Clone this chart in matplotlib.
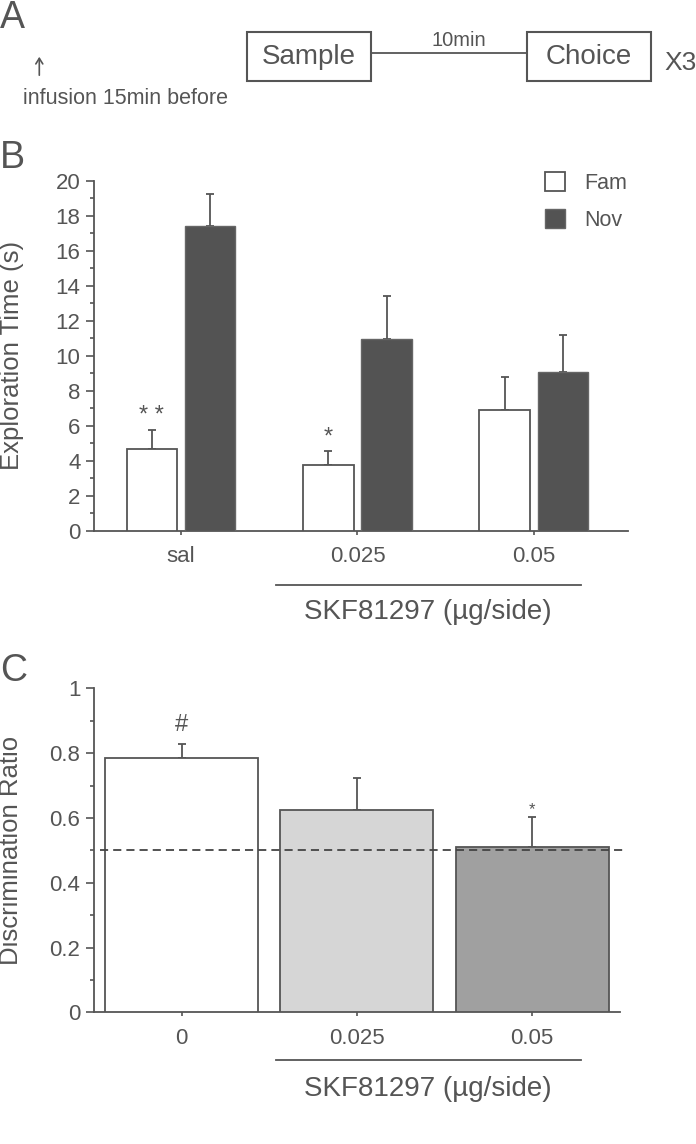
import matplotlib
matplotlib.use("Agg")
import matplotlib.pyplot as plt
import numpy as np
from matplotlib.patches import Rectangle, Patch
from matplotlib.lines import Line2D
from matplotlib.ticker import MultipleLocator, FuncFormatter

plt.rcParams['font.family'] = ['Liberation Sans', 'DejaVu Sans']

# ---------------- data ----------------
groups_B = ['sal', '0.025', '0.05']
fam_mean = [4.69, 3.74, 6.88]
fam_err = [1.06, 0.81, 1.90]
nov_mean = [17.41, 10.95, 9.09]
nov_err = [1.81, 2.48, 2.11]
sig_B = ['* *', '*', '']

groups_C = ['0', '0.025', '0.05']
ratio_mean = [0.786, 0.624, 0.509]
ratio_err = [0.042, 0.099, 0.094]
sig_C = ['#', '', '*']
chance_level = 0.5

drug_label = 'SKF81297 (\u00b5g/side)'

# ---------------- style ----------------
TXT = '#555555'
EDGE = '#555555'
TICKFS = 16
W, H = 696, 1144
fig = plt.figure(figsize=(W / 100, H / 100), dpi=100)


def fx(px):
    return px / W


def fy(py):
    return 1 - py / H


# ---------------- panel A (schematic) ----------------
fig.text(fx(0), fy(0), 'A', fontsize=27, color=TXT, ha='left', va='top')
for (x0, x1, lab) in [(247.3, 371, 'Sample'), (527, 651, 'Choice')]:
    fig.patches.append(Rectangle((fx(x0), fy(81)), fx(x1) - fx(x0), fy(32.3) - fy(81),
                                 transform=fig.transFigure, fill=False,
                                 edgecolor=EDGE, lw=1.5))
    fig.text(fx((x0 + x1) / 2), fy(56.5), lab, fontsize=20, color=TXT, ha='center', va='center')
fig.lines.append(Line2D([fx(371), fx(527)], [fy(53.3), fy(53.3)], transform=fig.transFigure,
                        color=EDGE, lw=1.3))
fig.text(fx(459), fy(40), '10min', fontsize=14.5, color=TXT, ha='center', va='center')
fig.text(fx(664), fy(63), 'X3', fontsize=19, color=TXT, ha='left', va='center')
fig.patches.append(matplotlib.patches.FancyArrowPatch((fx(39.3), fy(78)), (fx(39.3), fy(54)),
                                                      transform=fig.transFigure,
                                                      arrowstyle='->,head_length=4,head_width=2.5',
                                                      color=TXT, lw=1.2, mutation_scale=1))
fig.text(fx(23), fy(99), 'infusion 15min before', fontsize=15.5, color=TXT, ha='left', va='center')


def style_axes(ax):
    for s in ['top', 'right']:
        ax.spines[s].set_visible(False)
    for s in ['left', 'bottom']:
        ax.spines[s].set_color(EDGE)
        ax.spines[s].set_linewidth(1.3)
    ax.tick_params(axis='y', which='major', length=6, width=1.2, color=EDGE,
                   labelcolor=TXT, labelsize=TICKFS, pad=4)
    ax.tick_params(axis='y', which='minor', length=3, width=1.2, color=EDGE)
    ax.tick_params(axis='x', which='major', length=3, width=1.2, color=EDGE,
                   labelcolor=TXT, labelsize=TICKFS, pad=8)


# ---------------- panel B ----------------
fig.text(fx(0), fy(140), 'B', fontsize=27, color=TXT, ha='left', va='top')
axB = fig.add_axes([fx(94.3), fy(530.7), fx(628) - fx(94.3), fy(180.7) - fy(530.7)])
xb = np.arange(len(groups_B))
off, bw = 0.165, 0.287
axB.bar(xb - off, fam_mean, bw, color='white', edgecolor=EDGE, lw=1.3, zorder=3, label='Fam')
axB.bar(xb + off, nov_mean, bw, color='#535353', edgecolor='#666666', lw=1.0, zorder=3, label='Nov')
axB.errorbar(xb - off, fam_mean, yerr=[np.zeros(len(fam_err)), fam_err], fmt='none',
             ecolor=EDGE, elinewidth=1.3, capsize=3, capthick=1.3, zorder=2)
axB.errorbar(xb + off, nov_mean, yerr=[np.zeros(len(nov_err)), nov_err], fmt='none',
             ecolor=EDGE, elinewidth=1.3, capsize=3, capthick=1.3, zorder=2)
for xi, m, e, s in zip(xb, fam_mean, fam_err, sig_B):
    if s:
        axB.text(xi - off, m + e + 0.15, s, fontsize=17, color=TXT, ha='center', va='bottom')
axB.set_xlim(-0.491, 2.533)
axB.set_ylim(0, 20)
axB.yaxis.set_major_locator(MultipleLocator(2))
axB.yaxis.set_minor_locator(MultipleLocator(1))
axB.set_xticks(xb)
axB.set_xticklabels(groups_B)
style_axes(axB)
axB.set_ylabel('Exploration Time (s)', fontsize=18.5, color=TXT)
axB.yaxis.set_label_coords(-0.132, 0.5)
leg = axB.legend(handles=[Patch(facecolor='white', edgecolor=EDGE, lw=1.3, label='Fam'),
                          Patch(facecolor='#535353', edgecolor='#666666', lw=1.0, label='Nov')],
                 loc='upper left', bbox_to_anchor=(fx(545), fy(172)), bbox_transform=fig.transFigure,
                 frameon=False, fontsize=15.5, handlelength=0.95, handleheight=0.95,
                 handletextpad=0.85, labelspacing=0.72, borderpad=0, borderaxespad=0)
for t in leg.get_texts():
    t.set_color(TXT)
# drug bracket B
fig.lines.append(Line2D([fx(276), fx(580.7)], [fy(584.7), fy(584.7)], transform=fig.transFigure,
                        color=EDGE, lw=1.3))
fig.text(fx(428.3), fy(611.7), drug_label, fontsize=20, color=TXT, ha='center', va='center')

# ---------------- panel C ----------------
fig.text(fx(0), fy(653), 'C', fontsize=27, color=TXT, ha='left', va='top')
axC = fig.add_axes([fx(94.3), fy(1012.3), fx(620) - fx(94.3), fy(688.3) - fy(1012.3)])
xc = np.arange(len(groups_C))
colors_C = ['white', '#d6d6d6', '#a0a0a0']
axC.bar(xc, ratio_mean, 0.873, color=colors_C, edgecolor=EDGE, lw=1.3, zorder=3)
axC.errorbar(xc, ratio_mean, yerr=[np.zeros(len(ratio_err)), ratio_err], fmt='none',
             ecolor=EDGE, elinewidth=1.3, capsize=3, capthick=1.3, zorder=2)
axC.axhline(chance_level, xmin=0.011, xmax=1.0095, color='#444444', lw=1.3,
            ls=(0, (4.5, 2.8)), zorder=4, clip_on=False)
for xi, m, e, s in zip(xc, ratio_mean, ratio_err, sig_C):
    if s == '#':
        axC.text(xi, m + e + 0.025, s, fontsize=17, color=TXT, ha='center', va='bottom')
    elif s:
        axC.text(xi, m + e + 0.0, s, fontsize=12, color=TXT, ha='center', va='bottom')
axC.set_xlim(-0.499, 2.502)
axC.set_ylim(0, 1)
axC.yaxis.set_major_locator(MultipleLocator(0.2))
axC.yaxis.set_minor_locator(MultipleLocator(0.1))
axC.yaxis.set_major_formatter(FuncFormatter(lambda v, p: '%g' % round(v, 2)))
axC.set_xticks(xc)
axC.set_xticklabels(groups_C)
style_axes(axC)
axC.set_ylabel('Discrimination Ratio', fontsize=18.5, color=TXT)
axC.yaxis.set_label_coords(-0.135, 0.5)
fig.lines.append(Line2D([fx(276), fx(580.7)], [fy(1060.3), fy(1060.3)], transform=fig.transFigure,
                        color=EDGE, lw=1.3))
fig.text(fx(428.3), fy(1089), drug_label, fontsize=20, color=TXT, ha='center', va='center')

fig.savefig('out.png', dpi=100, facecolor='white')
